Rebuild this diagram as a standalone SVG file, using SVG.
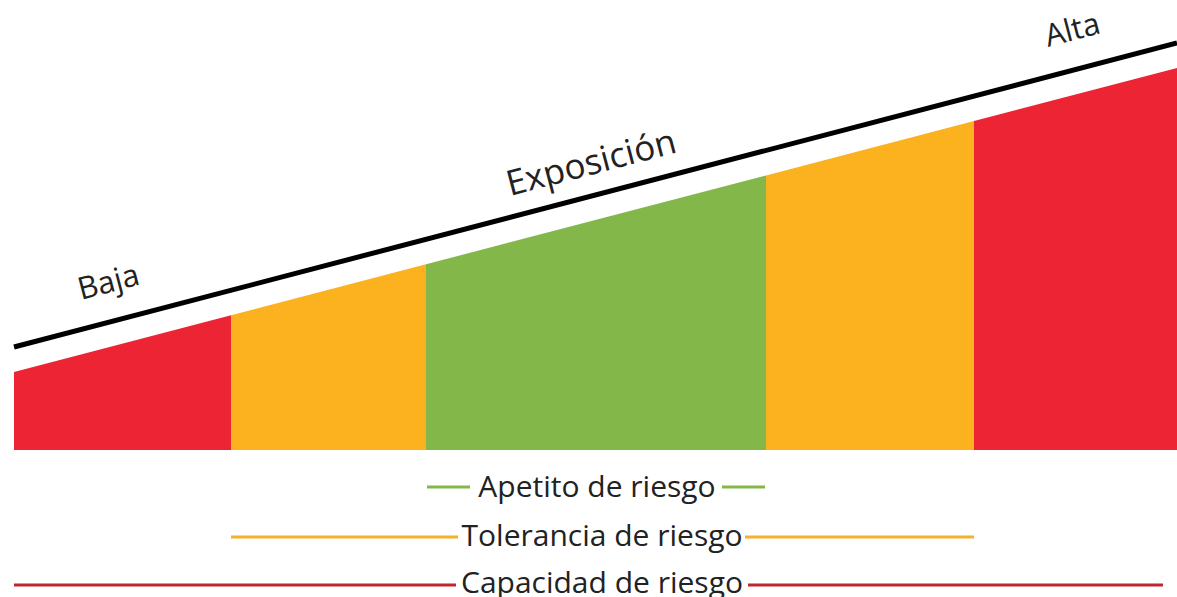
<svg xmlns="http://www.w3.org/2000/svg" width="1177" height="597" viewBox="0 0 1177 597">
<style>
.lbl{font-family:"Open Sans","Noto Sans",sans-serif;fill:#222;}
.top{font-size:31px;}
.big{font-size:35px;}
.bot{font-size:30px;text-anchor:middle;}
.red{fill:#EC2434;}
.org{fill:#FBB21E;}
.grn{fill:#83B74A;}
</style>
<rect width="1177" height="597" fill="#fff"/>
<g id="bands">
<g id="band-red-low"><polygon class="red" points="14,372 231,315.3 231,450 14,450"/></g>
<g id="band-orange-low"><polygon class="org" points="231,315.3 426,264.3 426,450 231,450"/></g>
<g id="band-green"><polygon class="grn" points="426,264.3 766,175.4 766,450 426,450"/></g>
<g id="band-orange-high"><polygon class="org" points="766,175.4 974,121 974,450 766,450"/></g>
<g id="band-red-high"><polygon class="red" points="974,121 1177,68 1177,450 974,450"/></g>
</g>
<g id="axis">
<line x1="14" y1="347" x2="1177" y2="43" stroke="#000" stroke-width="5"/>
<text class="lbl top" transform="translate(81,300) rotate(-14.65)">Baja</text>
<text class="lbl big" transform="translate(510,196) rotate(-14.65)">Exposición</text>
<text class="lbl top" transform="translate(1048,47) rotate(-14.65)">Alta</text>
</g>
<g id="connectors" stroke-width="3">
<line x1="427" y1="487" x2="470" y2="487" stroke="#83B74A"/>
<line x1="722" y1="487" x2="765" y2="487" stroke="#83B74A"/>
<line x1="231" y1="537" x2="458" y2="537" stroke="#F5B12A"/>
<line x1="745" y1="537" x2="974" y2="537" stroke="#F5B12A"/>
<line x1="14" y1="585" x2="456" y2="585" stroke="#C0272D"/>
<line x1="748" y1="585" x2="1163" y2="585" stroke="#C0272D"/>
</g>
<g id="legend-apetito"><text class="lbl bot" x="597" y="497">Apetito de riesgo</text></g>
<g id="legend-tolerancia"><text class="lbl bot" x="602" y="546">Tolerancia de riesgo</text></g>
<g id="legend-capacidad"><text class="lbl bot" x="602" y="593">Capacidad de riesgo</text></g>
</svg>
